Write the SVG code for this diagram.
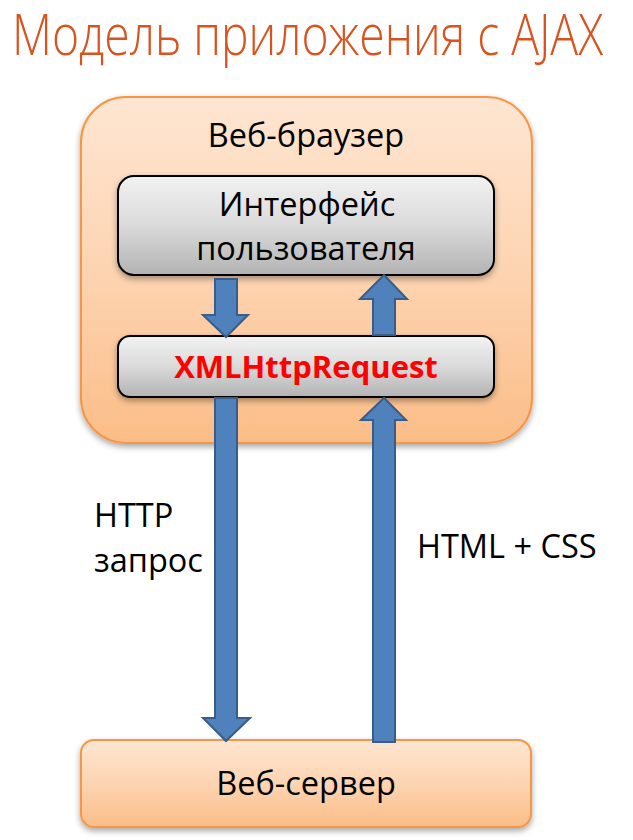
<svg xmlns="http://www.w3.org/2000/svg" width="633" height="840" viewBox="0 0 633 840">
  <defs>
    <linearGradient id="gOrange" x1="0" y1="0" x2="0" y2="1">
      <stop offset="0" stop-color="#FEE6D2"/>
      <stop offset="0.55" stop-color="#FDD2AE"/>
      <stop offset="1" stop-color="#FBBD87"/>
    </linearGradient>
    <linearGradient id="gGray" x1="0" y1="0" x2="0" y2="1">
      <stop offset="0" stop-color="#F2F2F2"/>
      <stop offset="0.5" stop-color="#DADADA"/>
      <stop offset="1" stop-color="#B3B3B3"/>
    </linearGradient>
    <filter id="shadow" x="-10%" y="-10%" width="120%" height="130%">
      <feGaussianBlur in="SourceAlpha" stdDeviation="3"/>
      <feOffset dx="0" dy="3" result="b"/>
      <feComponentTransfer><feFuncA type="linear" slope="0.35"/></feComponentTransfer>
      <feMerge><feMergeNode/><feMergeNode in="SourceGraphic"/></feMerge>
    </filter>
  </defs>
  <style>
    .orange { fill: url(#gOrange); stroke: #F79646; stroke-width: 2; }
    .gray { fill: url(#gGray); stroke: #000; stroke-width: 2; }
    .txt { font-family: "Open Sans", "Liberation Sans", sans-serif; font-size: 32.5px; fill: #000; }
    .mid { text-anchor: middle; }
    .xhr { font-family: "Open Sans", "Liberation Sans", sans-serif; font-size: 31px; font-weight: bold; fill: #FF0000; }
    .title { font-family: "Open Sans", "Liberation Sans", sans-serif; font-weight: 300; font-size: 48px; fill: #D9531E; }
    .arrow { fill: #4F81BD; stroke: #385D8A; stroke-width: 2; stroke-linejoin: miter; }
  </style>

  <text id="title" class="title" transform="translate(12,55) scale(1,1.19)" x="0" y="0" textLength="591" lengthAdjust="spacingAndGlyphs">Модель приложения с AJAX</text>

  <g id="browser">
    <rect class="orange" x="81" y="97" width="451" height="346" rx="45" ry="45" filter="url(#shadow)"/>
    <text class="txt mid" x="306" y="147">Веб-браузер</text>
  </g>

  <g id="ui">
    <rect class="gray" x="118" y="176" width="376" height="99" rx="16" ry="16" filter="url(#shadow)"/>
    <text class="txt mid" x="307" y="216">Интерфейс</text>
    <text class="txt mid" x="306" y="260">пользователя</text>
  </g>

  <g id="xhr">
    <rect class="gray" x="118" y="336" width="376" height="61" rx="12" ry="12" filter="url(#shadow)"/>
    <text class="xhr mid" x="306" y="378">XMLHttpRequest</text>
  </g>

  <g id="server">
    <rect class="orange" x="81" y="740" width="450" height="87" rx="13" ry="13" filter="url(#shadow)"/>
    <text class="txt mid" x="306" y="795">Веб-сервер</text>
  </g>

  <g id="connectors">
    <polygon class="arrow" points="215,279 237,279 237,315 248,315 226,337 203,315 215,315"/>
    <polygon class="arrow" points="373,335 395,335 395,299 407,299 384,275 360,299 373,299"/>
    <polygon class="arrow" points="215,398 237,398 237,718 250,718 226,741 203,718 215,718"/>
    <polygon class="arrow" points="373,742 395,742 395,420 406,420 384,398 361,420 373,420"/>
  </g>

  <g id="labels">
    <text class="txt" x="94" y="527">HTTP</text>
    <text class="txt" x="94" y="572">запрос</text>
    <text class="txt" x="417" y="558">HTML + CSS</text>
  </g>
</svg>
